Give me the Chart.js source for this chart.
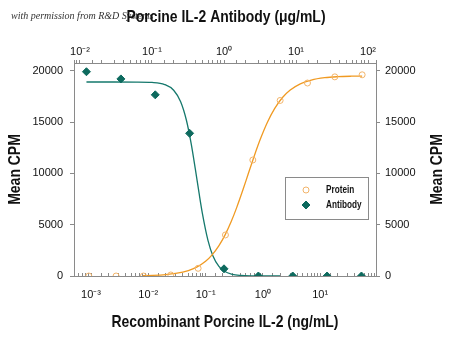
<!DOCTYPE html>
<html>
<head>
<meta charset="utf-8">
<script src="https://cdn.jsdelivr.net/npm/chart.js@4"></script>
<style>
  body { margin: 0; background: #fff; }
  #wrap { width: 450px; height: 338px; }
</style>
</head>
<body>
<div id="wrap"><canvas id="chart" width="450" height="338"></canvas></div>
<script>
'use strict';

// ── データ ───────────────────────────────────────────────
// Recombinant Porcine IL-2 (ng/mL, bottom axis)
const proteinDose = [0.000915, 0.00274, 0.00823, 0.0247, 0.0741, 0.222, 0.667, 2, 6, 18, 54];
const proteinCpm  = [0, 0, 0, 100, 750, 4000, 11300, 17100, 18800, 19400, 19600];
// Porcine IL-2 Antibody (µg/mL, top axis)
const antibodyDose = [0.0123, 0.037, 0.111, 0.333, 1, 3, 9, 27, 81];
const antibodyCpm  = [19900, 19200, 17650, 13900, 700, 0, 0, 0, 0];

// fitted curves
const proteinFitDose = [0.008, 0.012, 0.02, 0.03, 0.05, 0.07, 0.1, 0.13, 0.17, 0.22, 0.28, 0.35,
                        0.45, 0.55, 0.7, 0.9, 1.2, 1.6, 2.2, 3, 4.5, 7, 12, 20, 35, 54];
const proteinFitCpm  = [35, 64, 138, 252, 534, 869, 1439, 2060, 2927, 4027, 5302, 6687,
                        8421, 9884, 11625, 13313, 14978, 16304, 17386, 18117, 18722, 19091, 19316, 19414, 19463, 19481];
const antibodyFitDose = [0.0123, 0.03, 0.06, 0.1, 0.15, 0.2, 0.25, 0.3, 0.35, 0.4, 0.45, 0.5,
                         0.6, 0.7, 0.85, 1, 1.3, 1.7, 2.5, 4, 6];
const antibodyFitCpm  = [18900, 18900, 18895, 18855, 18653, 18098, 16978, 15200, 12901, 10414, 8090, 6136,
                         3453, 1980, 930, 482, 163, 53, 11, 2, 0];

const yTicks = [0, 5000, 10000, 15000, 20000];

const ORANGE = '#f09a22';
const ORANGE_PT = '#f2b46a';
const TEAL = '#15786c';
const TEAL_PT = '#0d6a5e';
const AXIS = '#8a8a8a';
const INK = '#111';
const FONT = '"Liberation Sans", Arial, sans-serif';
const NARROW = 0.82;   // 横方向に詰めてナロー体風にする

const pts = (xs, ys) => xs.map((x, i) => ({ x, y: ys[i] }));

// 10の累乗だけラベル表示
const SUP = { '-': '⁻', '0': '⁰', '1': '¹', '2': '²', '3': '³', '4': '⁴' };
function powLabel(v) {
  const e = Math.log10(v);
  const r = Math.round(e);
  if (Math.abs(e - r) > 1e-6) return '';
  return '10' + String(r).split('').map(c => SUP[c]).join('');
}

function narrowText(ctx, text, x, y, rot, font, align) {
  ctx.save();
  ctx.translate(x, y);
  ctx.rotate(rot);
  ctx.scale(NARROW, 1);
  ctx.font = font;
  ctx.fillStyle = INK;
  ctx.textAlign = align || 'center';
  ctx.textBaseline = 'middle';
  ctx.fillText(text, 0, 0);
  ctx.restore();
}

// ── 透かし・軸タイトル・凡例 ───────────────────────────────
const extras = {
  id: 'extras',
  beforeDraw(chart) {
    const ctx = chart.ctx;
    ctx.save();
    ctx.font = 'italic 10px "Liberation Serif", serif';
    ctx.fillStyle = '#333';
    ctx.textBaseline = 'middle';
    ctx.fillText('with permission from R&D Systems', 11, 16);
    ctx.restore();
  },
  afterDraw(chart) {
    const ctx = chart.ctx;
    const a = chart.chartArea;
    const midY = (a.top + a.bottom) / 2;
    const titleFont = 'bold 17px ' + FONT;

    narrowText(ctx, 'Porcine IL-2 Antibody (μg/mL)', 226, 17, 0, titleFont);
    narrowText(ctx, 'Recombinant Porcine IL-2 (ng/mL)', 225, 322, 0, titleFont);
    narrowText(ctx, 'Mean CPM', 15.5, midY, -Math.PI / 2, titleFont);
    narrowText(ctx, 'Mean CPM', 437, midY, -Math.PI / 2, titleFont);

    // legend box
    ctx.save();
    ctx.fillStyle = '#fff';
    ctx.strokeStyle = AXIS;
    ctx.lineWidth = 1;
    ctx.fillRect(285.5, 177.5, 83, 42);
    ctx.strokeRect(285.5, 177.5, 83, 42);
    ctx.restore();
    [0, 1].forEach((di, i) => {
      const ds = chart.data.datasets[di];
      const y = 190 + i * 15;
      ctx.save();
      ctx.fillStyle = ds.backgroundColor;
      ctx.strokeStyle = ds.borderColor;
      Chart.helpers.drawPoint(ctx, {
        pointStyle: ds.pointStyle, radius: ds.pointRadius,
        rotation: 0, borderWidth: ds.borderWidth
      }, 306, y);
      ctx.restore();
      narrowText(ctx, ds.label, 326, y, 0, 'bold 10px ' + FONT, 'left');
    });
  }
};

const logTicks = {
  autoSkip: false, maxRotation: 0, minRotation: 0,
  color: INK, font: { family: FONT, size: 11 },
  callback: v => powLabel(v)
};
const cpmTicks = {
  color: INK, font: { family: FONT, size: 11 },
  callback: v => String(v)
};

new Chart(document.getElementById('chart').getContext('2d'), {
  type: 'scatter',
  data: {
    datasets: [
      {
        label: 'Protein',
        data: pts(proteinDose, proteinCpm),
        xAxisID: 'x', yAxisID: 'y',
        pointStyle: 'circle', pointRadius: 3,
        backgroundColor: 'rgba(255,255,255,0)',
        borderColor: ORANGE_PT, borderWidth: 1,
        showLine: false,
      },
      {
        label: 'Antibody',
        data: pts(antibodyDose, antibodyCpm),
        xAxisID: 'x2', yAxisID: 'y',
        pointStyle: 'rectRot', pointRadius: 4,
        backgroundColor: TEAL_PT, borderColor: TEAL_PT, borderWidth: 1,
        showLine: false,
      },
      {
        label: 'Protein fit',
        data: pts(proteinFitDose, proteinFitCpm),
        xAxisID: 'x', yAxisID: 'y',
        showLine: true, pointRadius: 0,
        borderColor: ORANGE, borderWidth: 1.3,
        cubicInterpolationMode: 'monotone',
      },
      {
        label: 'Antibody fit',
        data: pts(antibodyFitDose, antibodyFitCpm),
        xAxisID: 'x2', yAxisID: 'y',
        showLine: true, pointRadius: 0,
        borderColor: TEAL, borderWidth: 1.3,
        cubicInterpolationMode: 'monotone',
      },
    ],
  },
  options: {
    responsive: false,
    animation: false,
    layout: { padding: 0 },
    plugins: {
      legend: { display: false },
      tooltip: { enabled: false },
    },
    scales: {
      x: {
        type: 'logarithmic', position: 'bottom',
        min: 0.000505, max: 94.2,
        afterFit: s => { s.height = 62; },
        border: { display: true, color: AXIS, width: 1 },
        // 目盛りは内向き
        grid: { drawOnChartArea: false, drawTicks: true, tickLength: -3, color: AXIS },
        ticks: { ...logTicks, padding: 15 },
      },
      x2: {
        type: 'logarithmic', position: 'top',
        min: 0.00826, max: 129,
        afterFit: s => { s.height = 63; },
        border: { display: true, color: AXIS, width: 1 },
        grid: { drawOnChartArea: false, drawTicks: true, tickLength: 3, color: AXIS },
        ticks: { ...logTicks, padding: 1 },
      },
      y: {
        position: 'left',
        min: 0, max: 20750,
        afterFit: s => { s.width = 74; },
        afterBuildTicks: s => { s.ticks = yTicks.map(v => ({ value: v })); },
        border: { display: true, color: AXIS, width: 1 },
        grid: { drawOnChartArea: false, drawTicks: true, tickLength: 4, color: AXIS },
        ticks: { ...cpmTicks, padding: 7 },
      },
      y2: {
        position: 'right',
        min: 0, max: 20750,
        afterFit: s => { s.width = 74; },
        afterBuildTicks: s => { s.ticks = yTicks.map(v => ({ value: v })); },
        border: { display: true, color: AXIS, width: 1 },
        grid: { drawOnChartArea: false, drawTicks: true, tickLength: 4, color: AXIS },
        ticks: { ...cpmTicks, padding: 5 },
      },
    },
  },
  plugins: [extras],
});
</script>
</body>
</html>
